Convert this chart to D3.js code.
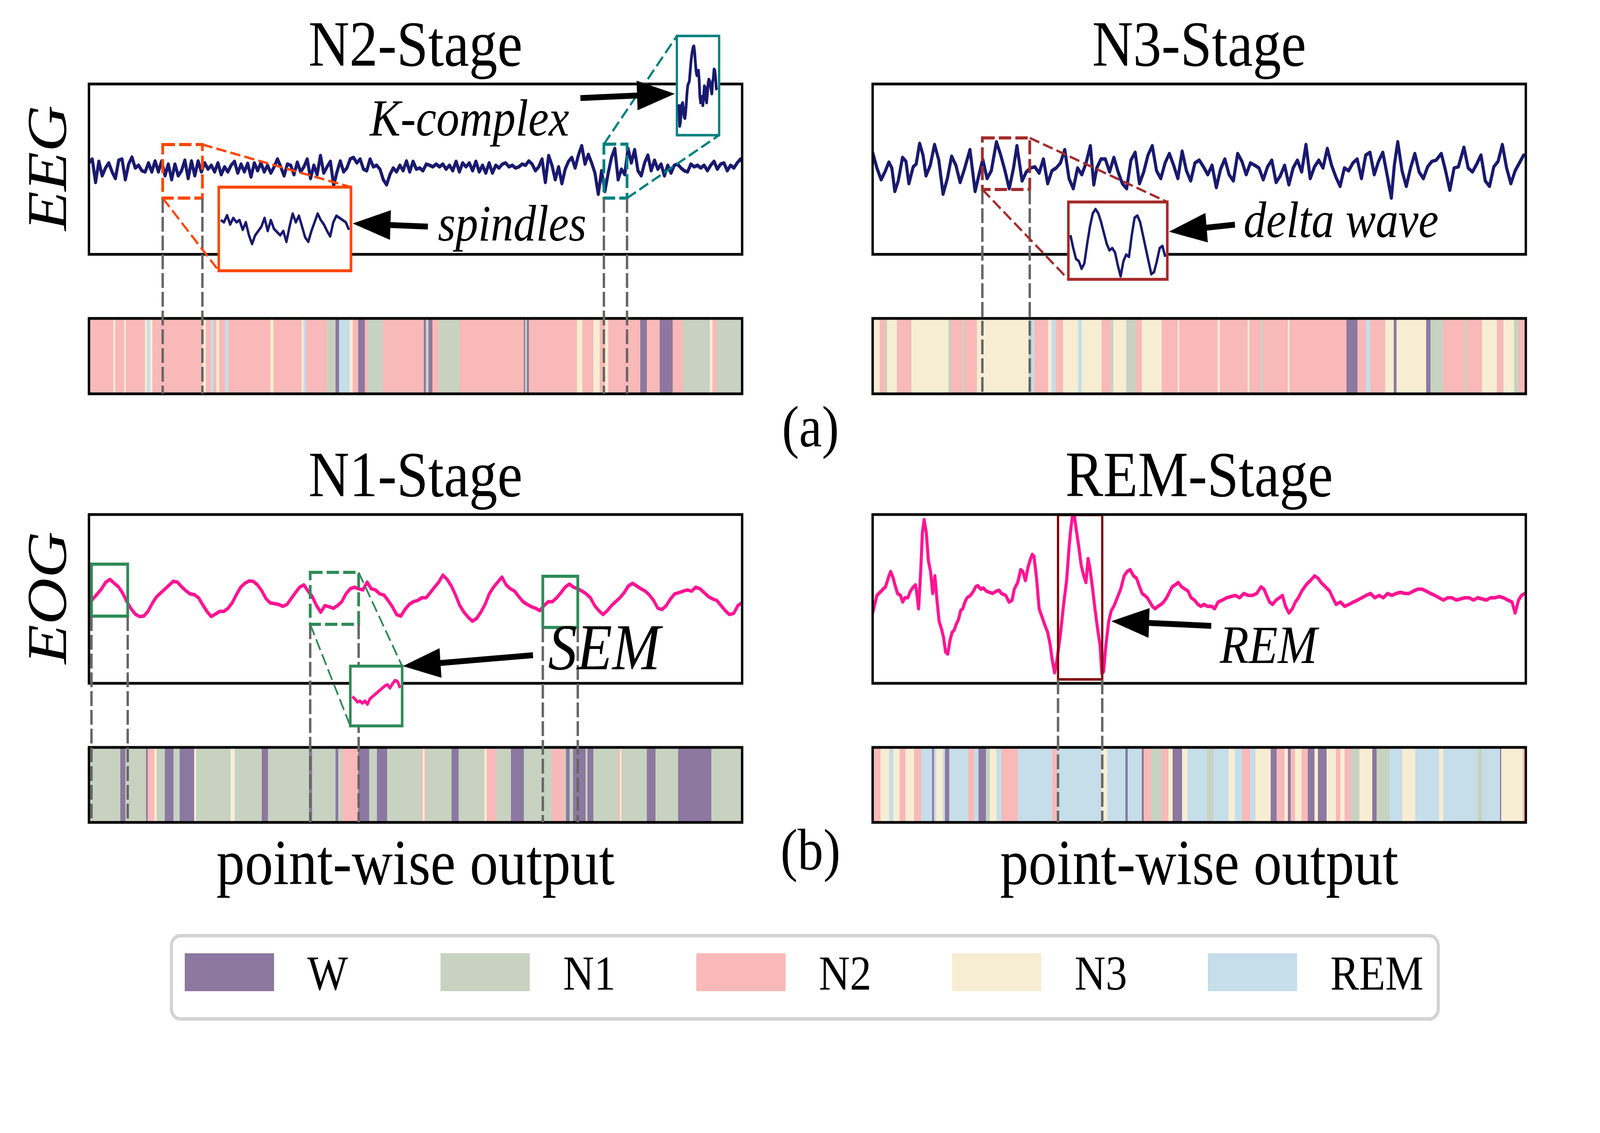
<!DOCTYPE html>
<html>
<head>
<meta charset="utf-8">
<script src="https://cdn.jsdelivr.net/npm/d3@7"></script>
<style>
  html, body { margin: 0; padding: 0; background: #fff; width: 100%; height: 100%; overflow: hidden; }
  svg { display: block; width: 100vw; height: 100vh; }
  text { font-family: "Liberation Serif", "Times New Roman", serif; }
</style>
</head>
<body>
<svg id="fig"></svg>
<script>
// ---- data ----
const stages = ["W", "N1", "N2", "N3", "REM"];
const stageColors = ["#8c78a0", "#c7d2c1", "#f8b9b8", "#f7edd3", "#c6ddea"];

// EEG, N2 stage (evenly sampled)
const eegN2 = [1.3,2.3,-3.7,1.7,-2,0,1.3,-1,-2.7,2,2.3,-3,1,2.8,0,0.7,-0.7,-1,1.3,-1,1.8,-1,1.8,-2,1,-3,1,-2,-0.7,2,
  -2.7,1.8,-2,1.8,-1,1.3,-0.3,0.7,-1,1.3,-1.7,0.3,-1,0.7,1.7,-1.3,1,-1,1.2,-2.3,1.3,-0.7,1.3,-1,0.7,-1.3,0.3,2.3,0.3,-2,
  1,0.7,-1.7,1.5,-1,0.3,2.3,-2.7,0.7,-1.7,3.2,-1.3,0.3,1.7,-4.5,-1,1.8,-1,0,2.3,2.7,1.3,2.3,-0.3,-0.7,2.3,0.3,0.7,-0.3,-3,
  -4.3,-1.7,0,-1,0.7,-0.7,1.8,-1,1.7,-0.3,
  0,-0.7,1,0.7,0.3,1,0.3,1,-0.3,0.7,-0.7,1.7,-1,1.3,0.3,1.3,-0.7,1.7,-1,0.7,-1.3,1.3,-1.3,0.7,0,1,1.3,0.3,0.7,0,
  0.3,1,0.7,1.8,1,-0.7,0.3,2.3,-3.7,3.2,0.7,-3,0.3,-4,-0.3,1.7,2.7,0,3.3,5.7,1,3.5,1.3,-1.3,-6.7,-0.7,-6,-1.3,2.7,5,
  -3,-0.3,-1.7,5,1.3,4.7,-0.7,-2,1.3,3.3,-0.7,2,-0.3,1,-2,0.7,-1.3,0.7,1,0,-0.7,-1,1,0.3,0.7,0,0.7,-0.7,0.7,1.7,
  -0.3,1,1.3,-0.7,0.7,0,1.3,2.3,1,0.3];

// EEG, N3 stage [time, value]
const eegN3 = [[0,4],[10,0],[20,-3],[30,-0.7],[38,1.5],[45,0],[52,-6],[60,-3.3],[70,2.7],[78,1.7],[85,-4],[95,0.3],
  [102,1],[110,6.3],[118,3.3],[125,-2],[135,0.7],[145,6],[155,2],[165,-6.7],[175,-2.7],[185,3],[195,0.7],[205,-3.7],
  [215,-0.3],[228,4.7],[240,-6],[250,-1.3],[258,2.2],[268,-2.7],[278,-0.7],[290,6.7],[300,3.3],[310,-0.7],[320,-5.3],
  [330,0],[338,5.7],[350,-3.3],[360,-1],[370,0],[380,0.3],[390,-1.3],[400,2.3],[410,-4],[420,-0.7],[430,0],[440,1.3],
  [450,4.7],[460,-2.7],[470,-5.3],[480,0],[490,-1.7],[500,1.3],[510,5.7],[518,-4.3],[525,0],[535,2.3],[545,2.3],
  [555,-1],[565,2.7],[575,-1],[585,-4],[595,-5.3],[605,2],[615,4],[625,-4],[635,-1],[645,3.3],[655,5.7],[665,-0.7],
  [675,-2.7],[685,1.3],[695,3.7],[705,0.7],[715,-2.7],[725,4.3],[735,-0.7],[745,-3.3],[755,1.3],[765,2],[775,0.3],
  [785,-1.7],[795,0.7],[805,-5],[815,-0.3],[825,2.3],[835,-1.7],[845,-3.3],[855,3.7],[865,1.7],[875,-1.7],[885,1.3],
  [895,0.7],[905,0],[915,-3],[925,0.3],[935,2],[945,-3.7],[955,-2],[965,0.7],[975,-4.3],[985,0],[995,2],[1005,-1],
  [1015,6],[1025,-2.7],[1035,0.3],[1045,2],[1055,0],[1065,5],[1075,0.7],[1085,-2.3],[1095,-4.7],[1105,0],[1115,-0.7],
  [1125,1.3],[1135,2.3],[1145,-2.7],[1155,3.3],[1165,4],[1175,-1.7],[1185,1.7],[1195,4],[1205,-1.7],[1215,-7.7],
  [1222,0.7],[1230,6.7],[1240,-0.7],[1250,-4.7],[1260,0],[1270,3.7],[1280,-1],[1290,-2.7],[1300,0.3],[1310,1.7],
  [1320,2],[1332,3.7],[1342,-0.7],[1352,-5.7],[1362,0],[1372,0.3],[1385,5.3],[1395,0],[1405,-1],[1415,1],[1425,3.3],
  [1435,-3.3],[1445,-4.7],[1455,0.3],[1465,1.7],[1475,6],[1485,0],[1495,-4],[1505,-0.7],[1515,1.3],[1525,3.3]];

// EOG, N1 stage (evenly sampled)
const eogN1 = [-1.7,-0.2,1,2.3,4,4.7,3.7,2.8,1.2,-1,-2.8,-4.2,-4.8,-4.7,-3.5,-1.5,0.2,1.2,2.2,3.2,4.2,4,2.8,1.8,1,0.8,
  0,-1.8,-3.5,-4.8,-4.2,-3.5,-3.5,-2.7,-1.3,0.8,2.7,3.7,4.3,4.2,3.3,1.8,-0.2,-1.3,-1.5,-1.7,-2.2,-1.7,-0.2,1.3,2.7,
  3.3,1.7,0.3,-2,-3.7,-2,-2.3,-2.7,-2,-1,1,2.3,2.7,2.3,2,4,2.3,2,1,0.7,-0.7,-2.3,-4.3,-4.7,-3,-1.7,-1,-0.7,0,0,1.3,
  2.7,4,5.8,4.7,3,0.7,-2,-3.7,-5,-6,-5.3,-3.7,-1.7,1,2.7,4,5.3,3.3,2.3,1.7,0.3,-1,-1.7,-2.3,-2.7,-3.3,-2,-1,-1,0,
  1.3,2.7,3.5,2.7,2.3,1.7,1,0,-2,-3.3,-4.3,-3.3,-2,-1,0,1.3,3,3.7,3,2.3,1.7,0.7,-0.7,-2.7,-3,-2,-0.3,1,1.3,1.7,2,
  1.7,2.7,2.3,1.3,0.3,-0.3,-0.7,-2,-3.3,-4.3,-4,-2,-1.3];

// EOG, REM stage [time, value]
const eogREM = [[0,-3.9],[10,0.6],[20,1.7],[30,2.8],[38,5.6],[42,6.7],[48,5],[52,3.3],[58,1.1],[65,0.6],[70,-1.1],
  [75,0],[82,0],[88,1.7],[95,2.8],[100,3.3],[103,1.1],[107,-2.8],[112,6.7],[116,16.7],[120,20],[125,16.7],[130,9.4],
  [135,6.7],[140,1.1],[145,5.6],[150,-0.6],[155,-6.1],[160,-7.8],[165,-10],[170,-13.9],[175,-14.4],[180,-11.1],
  [185,-8.9],[190,-8.3],[195,-6.7],[200,-5.6],[205,-3.3],[210,-2.8],[215,-1.1],[220,0],[228,0.6],[235,1.7],[240,2.8],
  [245,3.1],[252,2.2],[258,2.5],[265,1.7],[272,1.4],[280,1.1],[288,1.7],[295,1.9],[300,1.1],[310,0.6],[318,-1.1],
  [325,-0.6],[330,2.2],[338,3.9],[345,7.2],[350,6.7],[356,4.4],[362,7.8],[368,10],[372,11.1],[376,10.6],[382,5],
  [388,-2.8],[395,-5],[402,-7.2],[408,-8.9],[414,-12.2],[418,-15.6],[424,-19.2],[430,-15.6],[438,-8.9],[445,-1.7],
  [452,4.4],[458,13.3],[462,17.8],[466,21.1],[470,21.1],[474,17.8],[480,13.3],[486,8.3],[492,5.6],[497,3.9],[502,10],
  [506,7.8],[512,2.8],[518,-2.8],[524,-7.8],[530,-12.2],[534,-19.4],[538,-18.9],[544,-11.7],[550,-6.1],[556,-3.3],
  [562,-2.2],[570,0],[578,2.2],[586,5.6],[593,6.7],[600,7.2],[608,5.6],[615,5],[622,2.8],[628,1.1],[634,0.6],[640,0],
  [646,-1.1],[652,-2.2],[658,-2.8],[665,-2.2],[672,-1.7],[678,-1.1],[685,0],[690,1.1],[698,2.8],[705,3.3],[712,3.9],
  [720,2.8],[728,2.2],[735,1.7],[742,0],[750,-0.6],[758,-1.7],[765,-2.2],[772,-1.7],[780,-2.2],[790,-2.2],[797,-2.8],
  [805,-1.1],[815,-0.6],[825,0],[835,0.3],[845,0.6],[855,0],[865,1.1],[875,0.6],[885,0.6],[895,1.1],[905,2.8],
  [912,2.2],[918,0.6],[925,-1.1],[932,-1.7],[940,-0.6],[948,0],[955,0.6],[962,-2.2],[970,-3.9],[978,-2.8],[985,-1.1],
  [992,0],[1000,1.7],[1010,3.3],[1020,4.4],[1030,5.6],[1038,5],[1045,3.9],[1055,2.8],[1065,1.7],[1072,0],[1080,-1.7],
  [1090,-1.1],[1100,-2.2],[1110,-1.7],[1120,-1.1],[1130,-0.6],[1140,0],[1150,0.6],[1160,1.1],[1170,0],[1180,0.6],
  [1190,0],[1200,1.1],[1210,0.6],[1220,1.1],[1230,1.4],[1240,1.1],[1250,1.1],[1260,1.7],[1270,2.2],[1280,2.2],
  [1290,1.7],[1300,1.1],[1310,0.6],[1320,0],[1330,-0.6],[1340,0],[1350,0],[1360,-0.6],[1370,-0.3],[1380,0],[1390,0],
  [1400,-0.6],[1410,0],[1420,-0.3],[1430,-0.6],[1440,0],[1450,0],[1460,0.3],[1470,0],[1480,-0.6],[1490,-1.1],
  [1497,-3.9],[1505,-0.6],[1512,0.6],[1520,1.1]];

// zoomed-in snippets
const spindleZoom = [1.5,1,2.6,0.5,2,1,1.5,-0.75,1,-2,-4,-2,-1,0,2,-1,1.5,-0.5,-1.25,-2,-1,-3.5,0,3,1,2.5,0,-2.5,
  -3.5,-1,1,3,1.5,0.5,-1,-2.25,1,2.5,2,1.5,1,-0.75];
const kComplexZoom = [-4.7,-10.3,-9.3,-6.7,-4.7,-4.3,-6,-8,-8.3,-6.7,-4,-1.3,0.3,0.7,1.3,3.7,6,7.7,9,10,10.2,8.7,6,3.7,
  2.7,3.3,4,1.7,-2.7,-4.3,-3.7,-2.7,-5,-2.7,0,-0.3,-3.3,-4.3,-2,0.7,1.7,1.3,0.3,-1,-2,1,2,4.3,4,2,-0.7,-1];
const deltaZoom = [2,-1,-3.5,-4,-5.75,-4.5,0,4,7,8,7,5,2.5,0,-1.5,-1,-2,-5,-7.5,-4,-2.5,-3,2,6,6.5,5,2,-1,-4,-7,
  -6.5,-4,-1,-0.5,-3];
const semZoom = [-1,-1.5,-2.25,-2,-2.5,-2,-2.75,-1.5,-1,-0.5,0,0.5,1,1.5,1.75,1,2,2.75,2.5,1];

// point-wise output: [stage, length]
const barN2 = [["N2",57],["N3",4],["N2",21],["N3",4],["N2",44],["N3",5],["REM",7],["N3",6],["N2",117],["N3",7],
  ["N2",11],["REM",7],["N2",7],["N3",6],["N2",14],["REM",8],["N2",98],["N3",7],["N2",65],["N3",5],["REM",5],["N2",50],
  ["N1",20],["W",8],["REM",24],["N3",8],["N2",12],["W",16],["N2",7],["N1",35],["N2",95],["W",5],["N1",6],["W",9],
  ["N2",15],["N1",48],["N2",150],["W",3],["N1",5],["W",4],["N2",112],["N3",13],["N2",25],["N3",15],["N2",13],
  ["N3",7],["N2",75],["W",15],["N2",30],["W",30],["N2",25],["N1",62],["N3",6],["N2",10],["N1",57],["N2",2]];
const barN3 = [["N3",16],["N2",12],["N1",6],["N3",22],["N2",34],["N3",86],["N1",7],["N2",25],["N1",5],["N2",30],
  ["N3",120],["N1",7],["REM",6],["N2",32],["N3",8],["REM",10],["N2",17],["N3",35],["REM",8],["N3",47],["N2",20],
  ["N1",7],["N3",30],["N1",23],["N2",13],["N3",47],["N2",37],["N3",4],["N2",89],["N3",5],["N2",65],["N3",3],
  ["N2",27],["N1",5],["N2",58],["N3",4],["N2",133],["W",25],["N2",20],["REM",10],["N2",35],["N3",20],["W",6],
  ["N3",69],["W",10],["N1",30],["N2",50],["N1",5],["N2",35],["N3",35],["N2",15],["N3",25],["N1",10],["N2",17]];
const barN1 = [["N1",73],["W",12],["N1",48],["W",4],["N2",15],["N3",6],["N1",19],["W",20],["N1",14],["W",34],
  ["N3",5],["N1",80],["N3",10],["N1",63],["W",14],["N1",96],["W",7],["N1",55],["W",6],["N1",9],["N2",37],["W",26],
  ["N1",18],["W",24],["N1",80],["N2",3],["N3",4],["N2",3],["N1",60],["W",16],["N1",60],["N3",6],["N2",23],["N1",33],
  ["W",30],["N1",67],["N2",27],["N1",5],["W",8],["N1",8],["W",29],["N1",5],["W",13],["N1",58],["N2",4],["N3",4],
  ["N1",59],["W",20],["N1",53],["W",77],["N1",72]];
const barREM = [["N2",18],["N3",20],["REM",10],["N3",15],["N2",13],["N3",20],["N2",17],["REM",25],["W",5],
  ["REM",5],["N3",15],["REM",5],["W",10],["REM",45],["N2",13],["REM",10],["W",18],["N1",9],["N3",15],["REM",12],
  ["N2",38],["REM",80],["N2",12],["REM",103],["N3",13],["REM",42],["W",6],["REM",32],["W",5],["N2",17],["N1",25],
  ["N2",15],["N3",10],["W",22],["N3",13],["REM",45],["N1",15],["REM",35],["N3",15],["REM",17],["N2",18],["REM",13],
  ["N3",35],["W",14],["N2",18],["N3",8],["W",7],["N2",10],["N3",15],["N2",15],["W",15],["N3",8],["W",20],["N3",22],
  ["N2",10],["N3",10],["N2",15],["N1",20],["N3",30],["W",10],["N1",30],["REM",30],["N3",30],["REM",55],["N3",10],
  ["REM",80],["N1",10],["REM",42],["W",3],["N3",50],["N2",7]];

// ---- layout ----
const W = 4659, H = 2900;
// drawing coordinates are in figure pixels; the svg stretches to the window
const svg = d3.select("#fig")
  .attr("viewBox", `0 0 ${W} ${H}`)
  .attr("preserveAspectRatio", "none");
const stageColor = d3.scaleOrdinal().domain(stages).range(stageColors);

const grayDash = { color: "#666666", width: 7, dash: "38,10" };

const panels = [
  { id: "n2", x: 259, y: 215, w: 1902, h: 436, barY: 815, barH: 193, title: "N2-Stage",
    data: eegN2.map((v, i) => [i, v]), tMax: 197.5, line: "#191970", lw: 9, bar: barN2,
    boxes: [
      { t0: 22.3, t1: 34.3, hi: 6, lo: -7.7, color: "#ff4500", dashed: true,
        inset: { x0: 637, y0: 479, x1: 1022, y1: 693, yc: 580, unit: 11.1, data: spindleZoom, corners: "TR-BL" } },
      { t0: 155.7, t1: 162.7, hi: 6.1, lo: -7.7, color: "#008080", dashed: true,
        inset: { x0: 1971, y0: 92, x1: 2094, y1: 346, yc: 220, unit: 10, data: kComplexZoom, corners: "TL-BR",
                 lw: 6.5, tw: 8 } }
    ] },
  { id: "n3", x: 2541, y: 215, w: 1902, h: 436, barY: 815, barH: 193, title: "N3-Stage",
    data: eegN3, tMax: 1530, line: "#191970", lw: 9, bar: barN3,
    boxes: [
      { t0: 257, t1: 368, hi: 7.7, lo: -5.5, color: "#a52a2a", dashed: true,
        inset: { x0: 3111, y0: 517, x1: 3399, y1: 715, yc: 624, unit: 11.1, data: deltaZoom, corners: "TR-BL" } }
    ] },
  { id: "n1", x: 259, y: 1317, w: 1902, h: 432, barY: 1913, barH: 192, title: "N1-Stage",
    data: eogN1.map((v, i) => [i, v]), tMax: 155, line: "#ff1493", lw: 9, bar: barN1,
    boxes: [
      { t0: 0.6, t1: 9.2, hi: 8.6, lo: -4.7, color: "#2e8b57", dashed: false },
      { t0: 52.5, t1: 64, hi: 6.5, lo: -6.8, color: "#2e8b57", dashed: true,
        inset: { x0: 1020, y0: 1705, x1: 1171, y1: 1858, yc: 1772, unit: 11.1, data: semZoom, corners: "TR-BL",
                 lineColor: "#ff1493", lcw: 5, tw: 8 } },
      { t0: 107.7, t1: 116, hi: 5.5, lo: -7.6, color: "#2e8b57", dashed: false }
    ] },
  { id: "rem", x: 2541, y: 1317, w: 1902, h: 432, barY: 1913, barH: 192, title: "REM-Stage",
    data: eogREM, tMax: 1522, line: "#ff1493", lw: 9, bar: barREM,
    boxes: [
      { t0: 432, t1: 535, hi: 21.2, lo: -20.9, color: "#800000", dashed: false, sw: 6.5 }
    ] }
];

const defs = svg.append("defs");
const gPanels = svg.append("g");
const gBars = svg.append("g");
const gGuides = svg.append("g");
const gInsets = svg.append("g");
const gNotes = svg.append("g");

panels.forEach(p => {
  const x = d3.scaleLinear().domain([0, p.tMax]).range([p.x, p.x + p.w]);
  const yc = p.y + p.h / 2 - 3;
  const y = d3.scaleLinear().domain([-1, 1]).range([yc + 10, yc - 10]);

  defs.append("clipPath").attr("id", "clip-" + p.id)
    .append("rect").attr("x", p.x).attr("y", p.y).attr("width", p.w).attr("height", p.h);

  const g = gPanels.append("g");
  g.append("rect").attr("x", p.x).attr("y", p.y).attr("width", p.w).attr("height", p.h).attr("fill", "#fff");

  const line = d3.line().x(d => x(d[0])).y(d => y(d[1]));
  g.append("path").datum(p.data)
    .attr("clip-path", "url(#clip-" + p.id + ")")
    .attr("d", line).attr("fill", "none")
    .attr("stroke", p.line).attr("stroke-width", p.lw)
    .attr("stroke-linejoin", "round").attr("stroke-linecap", "round");

  // marked windows on the trace
  p.boxes.forEach(b => {
    b.px0 = x(b.t0); b.px1 = x(b.t1); b.py0 = y(b.hi); b.py1 = y(b.lo);
    g.append("rect").attr("x", b.px0).attr("y", b.py0)
      .attr("width", b.px1 - b.px0).attr("height", b.py1 - b.py0)
      .attr("fill", "none").attr("stroke", b.color).attr("stroke-width", b.sw || 8)
      .attr("stroke-dasharray", b.dashed ? "36,12" : null);
  });

  g.append("rect").attr("x", p.x).attr("y", p.y).attr("width", p.w).attr("height", p.h)
    .attr("fill", "none").attr("stroke", "#000").attr("stroke-width", 7);

  // point-wise output bar
  const total = d3.sum(p.bar, d => d[1]);
  const bx = d3.scaleLinear().domain([0, total]).range([p.x, p.x + p.w]);
  let acc = 0;
  const segs = p.bar.map(d => { const s = { stage: d[0], a: acc, b: acc + d[1] }; acc += d[1]; return s; });
  const gb = gBars.append("g");
  gb.selectAll("rect.seg").data(segs).join("rect").attr("class", "seg")
    .attr("x", d => bx(d.a)).attr("y", p.barY)
    .attr("width", d => bx(d.b) - bx(d.a) + 0.6).attr("height", p.barH)
    .attr("fill", d => stageColor(d.stage)).attr("shape-rendering", "crispEdges");
  gb.append("rect").attr("x", p.x).attr("y", p.barY).attr("width", p.w).attr("height", p.barH)
    .attr("fill", "none").attr("stroke", "#000").attr("stroke-width", 7);

  // guides from each window down to the bar
  p.boxes.forEach(b => {
    [b.px0, b.px1].forEach(gx => {
      gGuides.append("line").attr("x1", gx).attr("x2", gx)
        .attr("y1", b.py1).attr("y2", p.barY + p.barH)
        .attr("stroke", grayDash.color).attr("stroke-width", grayDash.width)
        .attr("stroke-dasharray", grayDash.dash);
    });

    if (b.inset) {
      const s = b.inset;
      const pairs = s.corners === "TR-BL"
        ? [[[b.px1, b.py0], [s.x1, s.y0]], [[b.px0, b.py1], [s.x0, s.y1]]]
        : [[[b.px0, b.py0], [s.x0, s.y0]], [[b.px1, b.py1], [s.x1, s.y1]]];
      pairs.forEach(pr => {
        gInsets.append("line").attr("x1", pr[0][0]).attr("y1", pr[0][1])
          .attr("x2", pr[1][0]).attr("y2", pr[1][1])
          .attr("stroke", b.color).attr("stroke-width", s.lcw || 6).attr("stroke-dasharray", "30,12");
      });
      gInsets.append("rect").attr("x", s.x0).attr("y", s.y0)
        .attr("width", s.x1 - s.x0).attr("height", s.y1 - s.y0)
        .attr("fill", "#fff").attr("stroke", b.color).attr("stroke-width", s.lw || 7.5);
      const ix = d3.scaleLinear().domain([0, s.data.length - 1]).range([s.x0 + 6, s.x1 - 6]);
      const iy = d3.scaleLinear().domain([0, 1]).range([s.yc, s.yc - s.unit]);
      gInsets.append("path").datum(s.data)
        .attr("d", d3.line().x((d, i) => ix(i)).y(d => iy(d)))
        .attr("fill", "none").attr("stroke", s.lineColor || p.line).attr("stroke-width", s.tw || 7)
        .attr("stroke-linejoin", "round");
    }
  });

  // titles
  gNotes.append("text").attr("x", p.x + p.w / 2).attr("y", p.y - 47)
    .attr("text-anchor", "middle").attr("font-size", 165).text(p.title);
  if (p.id === "n1" || p.id === "rem") {
    gNotes.append("text").attr("x", p.x + p.w / 2).attr("y", 2263)
      .attr("text-anchor", "middle").attr("font-size", 165).text("point-wise output");
  }
});

// row labels
[["EEG", 430], ["EOG", 1530]].forEach(([t, cy]) => {
  gNotes.append("text").attr("transform", `translate(192,${cy}) rotate(-90)`)
    .attr("text-anchor", "middle").attr("font-size", 165).attr("font-style", "italic").text(t);
});
gNotes.append("text").attr("x", 2360).attr("y", 1143).attr("text-anchor", "middle").attr("font-size", 150).text("(a)");
gNotes.append("text").attr("x", 2360).attr("y", 2226).attr("text-anchor", "middle").attr("font-size", 150).text("(b)");

// callouts
function arrowPoints(x1, y1, x2, y2, sw, hl, hw) {
  const dx = x2 - x1, dy = y2 - y1, L = Math.hypot(dx, dy);
  const ux = dx / L, uy = dy / L, nx = -uy, ny = ux;
  const bx = x2 - ux * hl, by = y2 - uy * hl;
  return [
    [x1 + nx * sw / 2, y1 + ny * sw / 2], [bx + nx * sw / 2, by + ny * sw / 2],
    [bx + nx * hw / 2, by + ny * hw / 2], [x2, y2],
    [bx - nx * hw / 2, by - ny * hw / 2], [bx - nx * sw / 2, by - ny * sw / 2],
    [x1 - nx * sw / 2, y1 - ny * sw / 2]
  ];
}
const callouts = [
  { text: "K-complex", tx: 1077, ty: 347, size: 134, from: [1690, 251], to: [1965, 240] },
  { text: "spindles", tx: 1275, ty: 616, size: 132, from: [1246, 580], to: [1027, 572] },
  { text: "delta wave", tx: 3621, ty: 607, size: 132, from: [3596, 575], to: [3404, 593] },
  { text: "SEM", tx: 1596, ty: 1713, size: 168, from: [1552, 1677], to: [1173, 1705] },
  { text: "REM", tx: 3552, ty: 1697, size: 138, from: [3527, 1602], to: [3236, 1590] }
];
callouts.forEach(c => {
  gNotes.append("polygon")
    .attr("points", arrowPoints(c.from[0], c.from[1], c.to[0], c.to[1], 15, 110, 76).map(p => p.join(",")).join(" "))
    .attr("fill", "#000");
  gNotes.append("text").attr("x", c.tx).attr("y", c.ty).attr("font-size", c.size)
    .attr("font-style", "italic").text(c.text);
});

// legend
const lg = svg.append("g");
lg.append("rect").attr("x", 499).attr("y", 2395).attr("width", 3689).attr("height", 213)
  .attr("rx", 26).attr("fill", "#fff").attr("stroke", "#d3d3d3").attr("stroke-width", 9);
const lx = d3.scalePoint().domain(stages).range([538, 3517]);
stages.forEach(s => {
  lg.append("rect").attr("x", lx(s)).attr("y", 2440).attr("width", 260).attr("height", 97)
    .attr("fill", stageColor(s));
  lg.append("text").attr("x", lx(s) + 357).attr("y", 2533).attr("font-size", 125).text(s);
});
</script>
</body>
</html>
